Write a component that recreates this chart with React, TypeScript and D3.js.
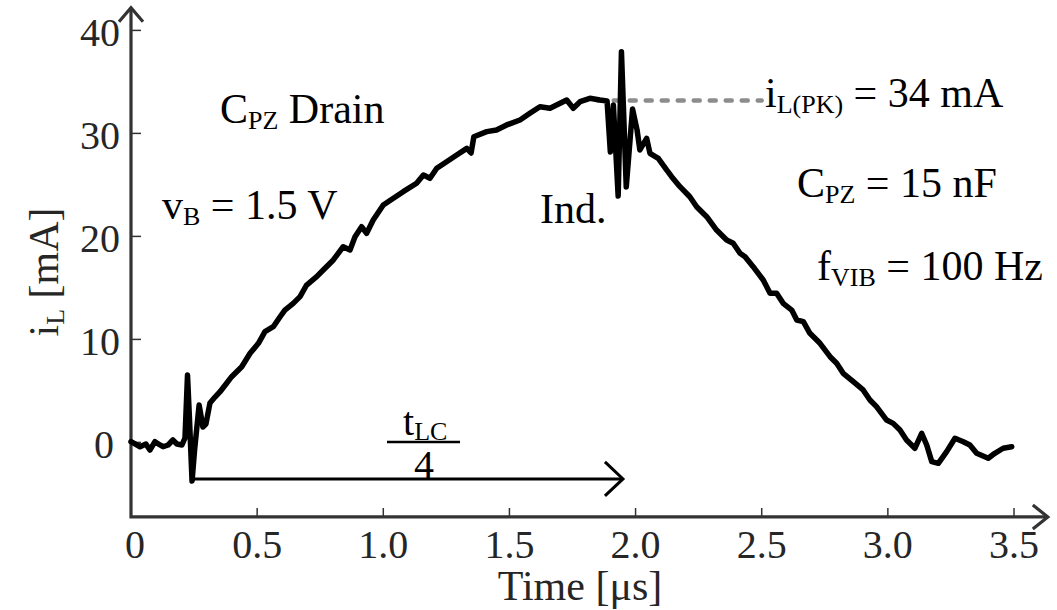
import React from "react";
import * as d3 from "d3";

// Time in microseconds, current in mA
const timeUs = [
  0.0, 0.036, 0.059, 0.075, 0.095, 0.115, 0.127, 0.147, 0.166, 0.182, 0.202, 0.214,
  0.224, 0.232, 0.242, 0.252, 0.27, 0.285, 0.297, 0.313, 0.333, 0.353, 0.379, 0.399,
  0.439, 0.472, 0.505, 0.531, 0.564, 0.591, 0.61, 0.643, 0.67, 0.696, 0.736, 0.762,
  0.802, 0.841, 0.868, 0.888, 0.914, 0.934, 0.96, 1.0, 1.04, 1.079, 1.132, 1.159,
  1.185, 1.212, 1.251, 1.291, 1.331, 1.348, 1.359, 1.41, 1.449, 1.489, 1.542, 1.581,
  1.621, 1.661, 1.701, 1.727, 1.753, 1.78, 1.819, 1.859, 1.887, 1.9, 1.912, 1.931,
  1.944, 1.963, 1.988, 2.006, 2.017, 2.044, 2.057, 2.09, 2.123, 2.143, 2.176, 2.215,
  2.242, 2.282, 2.321, 2.361, 2.387, 2.414, 2.434, 2.466, 2.506, 2.533, 2.559, 2.585,
  2.619, 2.639, 2.665, 2.691, 2.731, 2.771, 2.797, 2.823, 2.863, 2.902, 2.929, 2.955,
  2.995, 3.021, 3.048, 3.074, 3.107, 3.134, 3.154, 3.174, 3.2, 3.233, 3.266, 3.299,
  3.325, 3.352, 3.398, 3.424, 3.457, 3.491,
];
const currentMA = [
  0.07, -0.42, -0.16, -0.74, 0.07, -0.25, -0.42, -0.25, 0.23, -0.16, -0.25, 0.43,
  6.54, 2.17, -3.75, -0.74, 3.63, 1.5, 1.79, 3.83, 4.4, 4.92, 5.74, 6.38,
  7.35, 8.65, 9.62, 10.75, 11.23, 12.2, 12.85, 13.5, 14.15, 15.28, 16.09, 16.74,
  17.71, 19.0, 18.68, 19.97, 20.94, 20.3, 21.59, 23.05, 23.7, 24.34, 25.16, 25.96,
  25.64, 26.61, 27.25, 27.9, 28.55, 28.1, 29.68, 30.17, 30.33, 30.82, 31.3, 31.95,
  32.59, 32.44, 32.92, 33.24, 32.44, 33.08, 33.41, 33.24, 33.15, 28.19, 32.76, 23.92,
  37.93, 24.8, 32.37, 30.33, 28.39, 29.52, 28.07, 27.58, 26.45, 25.8, 24.83, 23.85,
  22.88, 21.91, 20.62, 19.65, 19.33, 18.36, 18.03, 17.06, 15.77, 14.48, 14.48, 13.5,
  12.85, 11.88, 11.72, 10.59, 9.62, 8.32, 7.68, 6.71, 5.89, 5.09, 4.12, 3.47,
  2.17, 1.85, 1.2, 0.23, -0.57, 0.88, -0.25, -1.87, -2.03, -0.9, 0.4, 0.07,
  -0.25, -1.06, -1.54, -1.06, -0.57, -0.42,
];

const xTicks = [0, 0.5, 1.0, 1.5, 2.0, 2.5, 3.0, 3.5];
const xTickLabels = ["0", "0.5", "1.0", "1.5", "2.0", "2.5", "3.0", "3.5"];
const yTicks = [0, 10, 20, 30, 40];

const axisMinX = 0;
const axisMaxX = 3.634;
const axisMinY = -7.24;
const axisMaxY = 42.2;

const peakLevel = 33.2;
const peakDashStart = 1.85;
const peakDashEnd = 2.5;
const quarterStart = 0.246;
const quarterEnd = 1.95;
const quarterLevel = -3.55;

const SERIF = "'Liberation Serif', 'Times New Roman', Times, serif";

export default function App() {
  const x = d3.scaleLinear().domain([0, 3.5]).range([131, 1014]);
  const y = d3.scaleLinear().domain([0, 40]).range([442.4, 30.4]);

  const pts: [number, number][] = timeUs.map((t, i) => [t, currentMA[i]]);
  const line = d3
    .line<[number, number]>()
    .x((d) => x(d[0]))
    .y((d) => y(d[1]));

  const ax0 = x(axisMinX);
  const ay0 = y(axisMinY);
  const axEnd = x(axisMaxX);
  const ayEnd = y(axisMaxY);

  const qx0 = x(quarterStart);
  const qx1 = x(quarterEnd);
  const qy = y(quarterLevel);

  const sub = 26;
  const main = 42;

  return (
    <svg
      width={1057}
      height={610}
      style={{ position: "absolute", left: 0, top: 0, background: "#fff" }}
      fontFamily={SERIF}
    >
      <rect x={0} y={0} width={1057} height={610} fill="#fff" />

      {/* ticks */}
      {xTicks.slice(1).map((t) => (
        <line key={"xt" + t} x1={x(t)} x2={x(t)} y1={ay0} y2={ay0 - 9} stroke="#333" strokeWidth={1.5} />
      ))}
      {yTicks.map((v) => (
        <line key={"yt" + v} x1={ax0} x2={ax0 + 10} y1={y(v)} y2={y(v)} stroke="#333" strokeWidth={1.5} />
      ))}

      {/* axes */}
      <path
        d={`M${ax0},${ayEnd} L${ax0},${ay0} L${axEnd},${ay0}`}
        fill="none"
        stroke="#333"
        strokeWidth={3.2}
      />
      <path
        d={`M${ax0 - 12},${ayEnd + 14} L${ax0},${ayEnd} L${ax0 + 12},${ayEnd + 14}`}
        fill="none"
        stroke="#333"
        strokeWidth={3.2}
      />
      <path
        d={`M${axEnd - 15},${ay0 - 12} L${axEnd},${ay0} L${axEnd - 15},${ay0 + 12}`}
        fill="none"
        stroke="#333"
        strokeWidth={3.2}
      />

      {/* tick labels */}
      {xTicks.map((t, i) => (
        <text key={"xl" + t} x={x(t) + (i === 0 ? 4 : 0)} y={558} fontSize={40} textAnchor="middle" fill="#262626">
          {xTickLabels[i]}
        </text>
      ))}
      {yTicks.map((v) => (
        <text key={"yl" + v} x={v === 0 ? 114 : 120} y={y(v) + 16} fontSize={40} textAnchor="end" fill="#262626">
          {String(v)}
        </text>
      ))}

      {/* axis titles */}
      <text x={580} y={600} fontSize={42} textAnchor="middle" fill="#262626">
        Time [μs]
      </text>
      <text transform="translate(58,272) rotate(-90)" fontSize={42} textAnchor="middle" fill="#262626">
        <tspan>i</tspan>
        <tspan fontSize={sub} dy={6}>L</tspan>
        <tspan dy={-6}>{" [mA]"}</tspan>
      </text>

      {/* peak dashed line */}
      <line
        x1={x(peakDashStart)}
        x2={x(peakDashEnd)}
        y1={y(peakLevel)}
        y2={y(peakLevel)}
        stroke="#8c8c8c"
        strokeWidth={4.5}
        strokeDasharray="6 10"
        strokeLinecap="round"
      />

      {/* quarter period arrow */}
      <line x1={qx0} x2={qx1} y1={qy} y2={qy} stroke="#000" strokeWidth={3} />
      <path
        d={`M${qx1 - 18},${qy - 17} L${qx1},${qy} L${qx1 - 18},${qy + 17}`}
        fill="none"
        stroke="#000"
        strokeWidth={3}
      />

      {/* trace */}
      <path
        d={line(pts) || ""}
        fill="none"
        stroke="#000"
        strokeWidth={5.5}
        strokeLinejoin="round"
        strokeLinecap="round"
      />

      {/* fraction t_LC / 4 */}
      <text x={403} y={435} fontSize={40} fill="#000">
        <tspan>t</tspan>
        <tspan fontSize={sub} dy={5}>LC</tspan>
      </text>
      <line x1={387} x2={460} y1={442} y2={442} stroke="#000" strokeWidth={2.5} />
      <text x={424} y={478} fontSize={40} textAnchor="middle" fill="#000">
        4
      </text>

      {/* annotations */}
      <text x={220} y={123} fontSize={main} fill="#000">
        <tspan>C</tspan>
        <tspan fontSize={sub} dy={6}>PZ</tspan>
        <tspan dy={-6}>{" Drain"}</tspan>
      </text>
      <text x={162} y={219} fontSize={main} fill="#000">
        <tspan>v</tspan>
        <tspan fontSize={sub} dy={6}>B</tspan>
        <tspan dy={-6}>{" = 1.5 V"}</tspan>
      </text>
      <text x={540} y={223} fontSize={main} fill="#000">
        Ind.
      </text>
      <text x={765} y={107} fontSize={main} fill="#000">
        <tspan>i</tspan>
        <tspan fontSize={sub} dy={6}>L(PK)</tspan>
        <tspan dy={-6}>{" = 34 mA"}</tspan>
      </text>
      <text x={797} y={197} fontSize={main} fill="#000">
        <tspan>C</tspan>
        <tspan fontSize={sub} dy={6}>PZ</tspan>
        <tspan dy={-6}>{" = 15 nF"}</tspan>
      </text>
      <text x={817} y={280} fontSize={main} fill="#000">
        <tspan>f</tspan>
        <tspan fontSize={sub} dy={6}>VIB</tspan>
        <tspan dy={-6}>{" = 100 Hz"}</tspan>
      </text>
    </svg>
  );
}
